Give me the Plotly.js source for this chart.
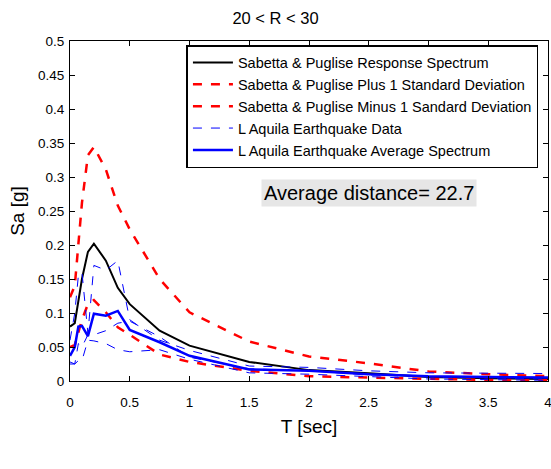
<!DOCTYPE html>
<html>
<head>
<meta charset="utf-8">
<script src="https://cdn.plot.ly/plotly-3.0.1.min.js"></script>
<style>html,body{margin:0;padding:0;background:#fff;}#chart{width:551px;height:469px;}</style>
</head>
<body>
<div id="chart"></div>
<script>
// Periods [sec]
const periodsSP = [0, 0.04, 0.1, 0.15, 0.2, 0.3, 0.4, 0.5, 0.75, 1.0, 1.5, 2.0, 2.5, 3.0, 3.5, 4.0];
const periodsData = [0, 0.04, 0.07, 0.1, 0.15, 0.2, 0.3, 0.4, 0.5, 0.75, 1.0, 1.5, 2.0, 2.5, 3.0, 3.5, 4.0];

// Sabetta & Puglise spectra [g]
const spMean  = [0.080, 0.085, 0.150, 0.190, 0.202, 0.177, 0.137, 0.113, 0.074, 0.052, 0.028, 0.016, 0.0115, 0.006, 0.004, 0.003];
const spPlus  = [0.123, 0.140, 0.262, 0.332, 0.344, 0.311, 0.258, 0.223, 0.150, 0.101, 0.058, 0.036, 0.026, 0.014, 0.010, 0.007];
const spMinus = [0.050, 0.053, 0.090, 0.113, 0.119, 0.101, 0.079, 0.068, 0.039, 0.028, 0.015, 0.007, 0.005, 0.003, 0.0015, 0.001];

// L Aquila earthquake records [g]
const record1 = [0.060, 0.100, 0.155, 0.160, 0.070, 0.170, 0.163, 0.177, 0.090, 0.060, 0.045, 0.022, 0.020, 0.015, 0.012, 0.011, 0.011];
const record2 = [0.028, 0.025, 0.055, 0.050, 0.068, 0.068, 0.074, 0.085, 0.088, 0.065, 0.035, 0.018, 0.015, 0.009, 0.006, 0.005, 0.003];
const record3 = [0.025, 0.025, 0.030, 0.030, 0.060, 0.059, 0.055, 0.046, 0.043, 0.046, 0.032, 0.012, 0.010, 0.006, 0.003, 0.002, 0.001];
const recordAvg = [0.037, 0.050, 0.080, 0.081, 0.066, 0.099, 0.096, 0.103, 0.075, 0.057, 0.037, 0.017, 0.015, 0.010, 0.007, 0.006, 0.005];

const seriesNames = [
  "Sabetta & Puglise Response Spectrum",
  "Sabetta & Puglise Plus 1 Standard Deviation",
  "Sabetta & Puglise Minus 1 Sandard Deviation",
  "L Aquila Earthquake Data",
  "L Aquila Earthquake Average Spectrum"
];

const xTickVals = [0, 0.5, 1, 1.5, 2, 2.5, 3, 3.5, 4];
const xTickText = ["0", "0.5", "1", "1.5", "2", "2.5", "3", "3.5", "4"];

const titleText = "20 < R < 30";
const annotationText = "Average distance= 22.7";

const traces = [
  {x: periodsSP, y: spMean, mode: "lines", name: seriesNames[0], line: {color: "#000000", width: 2}},
  {x: periodsSP, y: spPlus, mode: "lines", name: seriesNames[1], line: {color: "#ff0000", width: 2.5, dash: "dash"}},
  {x: periodsSP, y: spMinus, mode: "lines", name: seriesNames[2], line: {color: "#ff0000", width: 2.5, dash: "dash"}},
  {x: periodsData, y: record1, mode: "lines", name: seriesNames[3], legendgroup: "data", line: {color: "#0000ff", width: 1, dash: "dash"}},
  {x: periodsData, y: recordAvg, mode: "lines", name: seriesNames[4], line: {color: "#0000ff", width: 2.5}},
  {x: periodsData, y: record2, mode: "lines", name: seriesNames[3], legendgroup: "data", showlegend: false, line: {color: "#0000ff", width: 1, dash: "dash"}},
  {x: periodsData, y: record3, mode: "lines", name: seriesNames[3], legendgroup: "data", showlegend: false, line: {color: "#0000ff", width: 1, dash: "dash"}}
];

const axisCommon = {
  showline: true, linecolor: "#000", linewidth: 1, mirror: "ticks",
  ticks: "inside", ticklen: 5, tickcolor: "#000", tickwidth: 1,
  showgrid: false, zeroline: false, ticklabeloverflow: "allow",
  tickfont: {family: "Liberation Sans, Arial, sans-serif", size: 13.5, color: "#000"}
};

const layout = {
  width: 551, height: 469,
  margin: {l: 70, r: 3, t: 41, b: 88},
  paper_bgcolor: "#fff", plot_bgcolor: "#fff",
  font: {family: "Liberation Sans, Arial, sans-serif", color: "#000"},
  title: {text: titleText, x: 0.5, xanchor: "center", y: 0.962, yanchor: "middle", font: {size: 16.5, color: "#000"}},
  xaxis: Object.assign({}, axisCommon, {range: [0, 4], tickvals: xTickVals, ticktext: xTickText, ticklabelstandoff: 9,
    title: {text: "T [sec]", font: {size: 19}, standoff: 10}}),
  yaxis: Object.assign({}, axisCommon, {range: [0, 0.5], dtick: 0.05, tick0: 0, ticklabelstandoff: 2,
    title: {text: "Sa [g]", font: {size: 19}, standoff: 8}}),
  legend: {
    x: 0.98, y: 0.988, xanchor: "right", yanchor: "top",
    bgcolor: "#fff", bordercolor: "#000", borderwidth: 1.5,
    font: {size: 14.5, color: "#000"}, tracegroupgap: 0, itemwidth: 40
  },
  annotations: [{
    x: 2.5, y: 0.277, xref: "x", yref: "y", text: annotationText, showarrow: false,
    bgcolor: "#e6e6e6", font: {size: 20, color: "#000"}, borderpad: 2
  }],
  showlegend: true
};

Plotly.newPlot("chart", traces, layout, {displayModeBar: false, staticPlot: true});
</script>
</body>
</html>
